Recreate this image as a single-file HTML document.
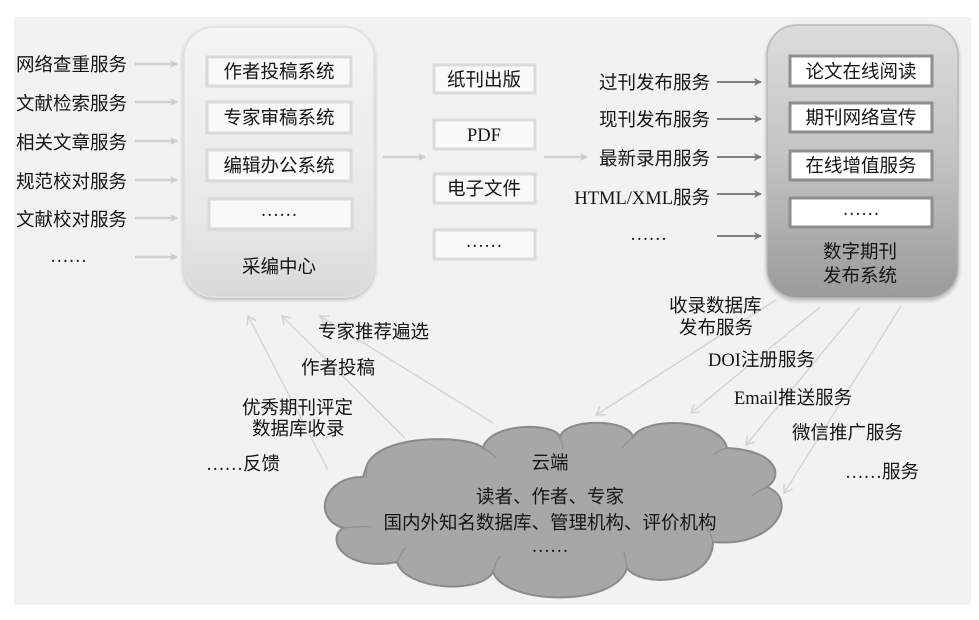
<!DOCTYPE html>
<html>
<head>
<meta charset="utf-8">
<style>
html,body{margin:0;padding:0;background:#fff;}
svg{display:block;}
text{font-family:"Liberation Serif","Noto Sans CJK SC",sans-serif;font-size:18.5px;fill:#151515;}
</style>
</head>
<body>
<svg width="979" height="620" viewBox="0 0 979 620" xmlns="http://www.w3.org/2000/svg">
<defs>
  <linearGradient id="gL" x1="0" y1="0" x2="0" y2="1">
    <stop offset="0" stop-color="#f4f4f4"/>
    <stop offset="0.7" stop-color="#e8e8e8"/>
    <stop offset="1" stop-color="#d8d8d8"/>
  </linearGradient>
  <linearGradient id="gR" x1="0" y1="0" x2="0" y2="1">
    <stop offset="0" stop-color="#dcdcdc"/>
    <stop offset="0.5" stop-color="#c2c2c2"/>
    <stop offset="1" stop-color="#9a9a9a"/>
  </linearGradient>
  <filter id="sh" x="-10%" y="-10%" width="120%" height="120%">
    <feGaussianBlur in="SourceAlpha" stdDeviation="2"/>
    <feOffset dx="0" dy="2" result="b"/>
    <feComponentTransfer><feFuncA type="linear" slope="0.25"/></feComponentTransfer>
    <feMerge><feMergeNode/><feMergeNode in="SourceGraphic"/></feMerge>
  </filter>
  <marker id="mL" markerWidth="10" markerHeight="10" refX="8" refY="5" orient="auto" markerUnits="userSpaceOnUse">
    <path d="M1,1 L9,5 L1,9 L3,5 Z" fill="#cdcdcd"/>
  </marker>
  <marker id="mD" markerWidth="10" markerHeight="10" refX="8" refY="5" orient="auto" markerUnits="userSpaceOnUse">
    <path d="M1,1 L9,5 L1,9 L3,5 Z" fill="#7a7a7a"/>
  </marker>
  <marker id="mT" markerWidth="12" markerHeight="12" refX="10" refY="6" orient="auto" markerUnits="userSpaceOnUse">
    <path d="M2,1 L10,6 L2,11" fill="none" stroke="#d2d2d2" stroke-width="1.5"/>
  </marker>
</defs>

<!-- background -->
<rect x="0" y="0" width="979" height="620" fill="#ffffff"/>
<rect x="14" y="17" width="957" height="588" fill="#f2f2f2"/>

<!-- left container -->
<rect x="184" y="27" width="190" height="270" rx="30" ry="30" fill="url(#gL)" stroke="#e0e0e0" stroke-width="1.5" filter="url(#sh)"/>
<g fill="#f9f9f9" stroke="#d9d9d9" stroke-width="3">
  <rect x="207" y="57" width="144" height="29"/>
  <rect x="207" y="102" width="144" height="31"/>
  <rect x="207" y="150" width="144" height="31"/>
  <rect x="209" y="199" width="143" height="30"/>
</g>
<g text-anchor="middle">
  <text x="279" y="78">作者投稿系统</text>
  <text x="279" y="124">专家审稿系统</text>
  <text x="279" y="172">编辑办公系统</text>
  <text x="279" y="216">……</text>
  <text x="279" y="273">采编中心</text>
</g>

<!-- left labels -->
<g>
  <text x="16" y="71">网络查重服务</text>
  <text x="16" y="110">文献检索服务</text>
  <text x="16" y="149">相关文章服务</text>
  <text x="16" y="188">规范校对服务</text>
  <text x="16" y="226">文献校对服务</text>
  <text x="50" y="262">……</text>
</g>
<g stroke="#d0d0d0" stroke-width="2.5" marker-end="url(#mL)">
  <line x1="135" y1="64" x2="177" y2="64"/>
  <line x1="135" y1="102" x2="177" y2="102"/>
  <line x1="135" y1="141" x2="177" y2="141"/>
  <line x1="135" y1="180" x2="177" y2="180"/>
  <line x1="135" y1="218" x2="177" y2="218"/>
  <line x1="135" y1="257" x2="177" y2="257"/>
  <line x1="383" y1="157" x2="425" y2="157"/>
  <line x1="544" y1="157" x2="587" y2="157"/>
</g>

<!-- middle column -->
<g fill="#f9f9f9" stroke="#dadada" stroke-width="3">
  <rect x="434" y="65" width="101" height="28"/>
  <rect x="434" y="120" width="101" height="29"/>
  <rect x="434" y="174" width="101" height="29"/>
  <rect x="434" y="230" width="101" height="29"/>
</g>
<g text-anchor="middle">
  <text x="484" y="86">纸刊出版</text>
  <text x="484" y="141">PDF</text>
  <text x="484" y="195">电子文件</text>
  <text x="484" y="247">……</text>
</g>

<!-- right labels -->
<g text-anchor="end">
  <text x="710" y="89">过刊发布服务</text>
  <text x="710" y="126">现刊发布服务</text>
  <text x="710" y="165">最新录用服务</text>
  <text x="710" y="204">HTML/XML服务</text>
</g>
<text x="630" y="240">……</text>
<g stroke="#808080" stroke-width="2" marker-end="url(#mD)">
  <line x1="717" y1="82" x2="761" y2="82"/>
  <line x1="717" y1="119" x2="761" y2="119"/>
  <line x1="717" y1="157" x2="761" y2="157"/>
  <line x1="717" y1="194" x2="761" y2="194"/>
  <line x1="717" y1="236" x2="761" y2="236"/>
</g>

<!-- right container -->
<rect x="767" y="25" width="191" height="273" rx="30" ry="30" fill="url(#gR)" stroke="#b8b8b8" stroke-width="1.5" filter="url(#sh)"/>
<g fill="#ffffff" stroke="#8e8e8e" stroke-width="3">
  <rect x="790" y="56" width="142" height="30"/>
  <rect x="790" y="103" width="142" height="29"/>
  <rect x="790" y="151" width="142" height="29"/>
  <rect x="790" y="198" width="142" height="29"/>
</g>
<g text-anchor="middle">
  <text x="861" y="78">论文在线阅读</text>
  <text x="861" y="124">期刊网络宣传</text>
  <text x="861" y="172">在线增值服务</text>
  <text x="861" y="215">……</text>
  <text x="860" y="258">数字期刊</text>
  <text x="860" y="282">发布系统</text>
</g>

<!-- bottom connectors -->
<g stroke="#d4d4d4" stroke-width="1.5" fill="none" marker-end="url(#mT)">
  <line x1="328" y1="470" x2="248" y2="316"/>
  <line x1="405" y1="438" x2="282" y2="316"/>
  <line x1="493" y1="423" x2="320" y2="316"/>
  <line x1="776" y1="300" x2="596" y2="415"/>
  <line x1="820" y1="307" x2="691" y2="413"/>
  <line x1="860" y1="307" x2="746" y2="445"/>
  <line x1="901" y1="306" x2="784" y2="493"/>
</g>

<!-- cloud -->
<path d="M363,477 C325,476 310,517 343,528 C325,540 345,572 397,562 C405,590 480,595 493,572 C505,605 615,608 627,568 C640,588 712,585 713,542 C775,548 800,500 767,487 C785,475 775,450 727,448 C720,418 645,416 633,437 C628,418 565,418 560,437 C555,422 490,422 483,448 C470,435 380,433 367,465 Z"
  fill="#a7a7a7" stroke="#8a8a8a" stroke-width="2"/>
<g fill="none" stroke="#8f8f8f" stroke-width="1.3">
  <path d="M483,448 C490,452 494,455 496,458"/>
  <path d="M560,437 C562,442 563,446 563,449"/>
  <path d="M633,437 C628,441 624,445 622,448"/>
  <path d="M727,448 C720,450 716,452 713,455"/>
  <path d="M767,487 C760,490 755,493 752,496"/>
  <path d="M713,542 C711,534 708,528 704,523"/>
  <path d="M627,568 C626,560 625,556 624,552"/>
  <path d="M493,572 C495,565 497,560 500,556"/>
  <path d="M397,562 C400,556 402,552 405,548"/>
  <path d="M343,528 C352,527 362,526 372,527"/>
  <path d="M367,465 C366,470 366,474 367,478"/>
</g>
<g text-anchor="middle">
  <text x="550" y="469">云端</text>
  <text x="550" y="503">读者、作者、专家</text>
  <text x="550" y="529">国内外知名数据库、管理机构、评价机构</text>
  <text x="550" y="552">……</text>
</g>

<!-- bottom labels -->
<g>
  <text x="318" y="338">专家推荐遍选</text>
  <text x="301" y="374">作者投稿</text>
  <text x="242" y="414">优秀期刊评定</text>
  <text x="252" y="435">数据库收录</text>
  <text x="206" y="470">……反馈</text>
  <text x="669" y="312">收录数据库</text>
  <text x="679" y="334">发布服务</text>
  <text x="708" y="366">DOI注册服务</text>
  <text x="734" y="404">Email推送服务</text>
  <text x="792" y="439">微信推广服务</text>
  <text x="845" y="478">……服务</text>
</g>
</svg>
</body>
</html>
